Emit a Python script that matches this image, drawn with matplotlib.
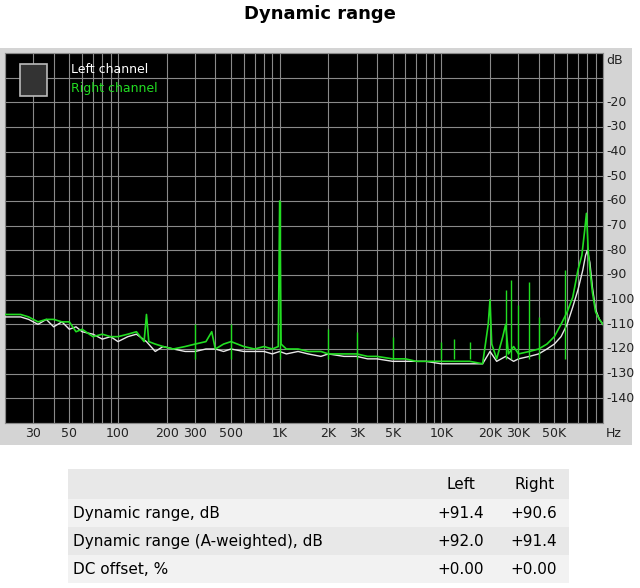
import numpy as np
import matplotlib
matplotlib.use("Agg")
import matplotlib.pyplot as plt
import matplotlib.ticker as ticker
from matplotlib.patches import Rectangle

# ── data ──────────────────────────────────────────────────────────────
FREQ_L = [20, 25, 28, 32, 36, 40, 45, 50, 55, 60, 70, 80, 90, 100, 115, 130, 150,
          170, 190, 220, 260, 300, 350, 400, 450, 500, 600, 700, 800, 900, 1000,
          1100, 1300, 1500, 1800, 2000, 2500, 3000, 3500, 4000, 5000, 6000, 7000,
          8000, 10000, 12000, 15000, 18000, 20000, 22000, 25000, 28000, 30000,
          35000, 40000, 45000, 50000, 55000, 60000, 65000, 70000, 75000, 78000,
          80000, 83000, 86000, 90000, 95000, 100000]
LEVEL_L = [-107, -107, -108, -110, -108, -111, -109, -112, -111, -113, -114, -116,
           -115, -117, -115, -114, -117, -121, -119, -120, -121, -121, -120, -120,
           -121, -120, -121, -121, -121, -122, -121, -122, -121, -122, -123, -122,
           -123, -123, -124, -124, -125, -125, -125, -125, -126, -126, -126, -126,
           -121, -125, -123, -125, -124, -123, -122, -120, -118, -115, -110, -103,
           -96, -88, -82, -80, -85, -95, -104, -108, -110]

FREQ_R = [20, 25, 28, 32, 36, 40, 45, 50, 55, 60, 70, 80, 90, 100, 115, 130, 145,
          150, 155, 170, 190, 220, 260, 300, 350, 380, 400, 450, 500, 600, 700,
          800, 900, 980, 1000, 1020, 1100, 1300, 1500, 1800, 2000, 2500, 3000,
          3500, 4000, 5000, 6000, 7000, 8000, 10000, 12000, 15000, 18000, 19500,
          20000, 20500, 22000, 24000, 25000, 26000, 28000, 30000, 35000, 40000,
          45000, 50000, 55000, 60000, 65000, 70000, 74000, 77000, 79000, 80000,
          81000, 83000, 86000, 90000, 95000, 100000]
LEVEL_R = [-106, -106, -107, -109, -108, -108, -109, -109, -113, -112, -115, -114,
           -115, -115, -114, -113, -117, -106, -117, -118, -119, -120, -119, -118,
           -117, -113, -120, -118, -117, -119, -120, -119, -120, -119, -60, -118,
           -120, -120, -121, -121, -122, -122, -122, -123, -123, -124, -124, -125,
           -125, -125, -125, -125, -126, -110, -100, -118, -124, -115, -110, -122,
           -119, -122, -121, -120, -118, -115, -110, -105, -99, -88, -82, -72,
           -65, -72, -80, -88, -97, -105, -108, -110]

# narrow spurs on the right channel (frequency, peak level)
SPUR_F = [300, 500, 1000, 2000, 3000, 5000, 10000, 12000, 15000, 25000, 27000,
          30000, 35000, 40000, 58000]
SPUR_DB = [-110, -110, -60, -112, -113, -115, -117, -116, -117, -96, -92,
           -102, -93, -107, -88]

X_TICKS = [30, 50, 100, 200, 300, 500, 1000, 2000, 3000, 5000, 10000, 20000,
           30000, 50000]
X_LABELS = ["30", "50", "100", "200", "300", "500", "1K", "2K", "3K", "5K",
            "10K", "20K", "30K", "50K"]
Y_TICKS = [-20, -30, -40, -50, -60, -70, -80, -90, -100, -110, -120, -130, -140]

ROW_NAMES = ["Dynamic range, dB", "Dynamic range (A-weighted), dB", "DC offset, %"]
LEFT_VALS = ["+91.4", "+92.0", "+0.00"]
RIGHT_VALS = ["+90.6", "+91.4", "+0.00"]

W, H = 640, 588
fig = plt.figure(figsize=(6.4, 5.88), dpi=100)
fig.patch.set_facecolor("white")

def fx(px):
    return px / W

def fy(py):
    return 1 - py / H

# grey panel behind the chart
fig.patches.append(Rectangle((0, fy(445)), fx(632), fy(48) - fy(445),
                             transform=fig.transFigure, facecolor="#d4d4d4",
                             edgecolor="none", zorder=-5))

fig.text(0.5, fy(14), "Dynamic range", ha="center", va="center",
         fontsize=13, fontweight="bold")

ax = fig.add_axes([fx(5), fy(423), fx(598), fy(53) - fy(423)])
ax.set_facecolor("black")
ax.set_xscale("log")
ax.set_xlim(20, 100000)
ax.set_ylim(-150, 0)

# grid
ax.xaxis.set_major_locator(ticker.LogLocator(base=10, subs=np.arange(1, 10)))
ax.xaxis.set_minor_locator(ticker.NullLocator())
ax.yaxis.set_major_locator(ticker.MultipleLocator(10))
ax.grid(True, which="major", color="#8a8a8a", linewidth=0.8)
ax.tick_params(length=0, labelbottom=False, labelleft=False)

for s in ax.spines.values():
    s.set_color("#8a8a8a")

ax.plot(FREQ_L, LEVEL_L, color="#e8e8e8", linewidth=1.0, zorder=3)
ax.plot(FREQ_R, LEVEL_R, color="#22dd22", linewidth=1.2, zorder=4)
ax.vlines(SPUR_F, -124, SPUR_DB, color="#22dd22", linewidth=1.0, zorder=4)

# tick labels drawn in the grey strip
for f, lab in zip(X_TICKS, X_LABELS):
    ax.text(f, -151.5, lab, ha="center", va="top", fontsize=9, color="#222222",
            clip_on=False)
ax.text(1.005, -151.5, "Hz", transform=ax.get_yaxis_transform(), ha="left",
        va="top", fontsize=9, color="#222222")
for v in Y_TICKS:
    ax.text(1.005, v, str(v), transform=ax.get_yaxis_transform(), ha="left",
            va="center", fontsize=9, color="#222222")
ax.text(1.005, -3, "dB", transform=ax.get_yaxis_transform(), ha="left",
        va="center", fontsize=9, color="#222222")

# legend
ax.text(0.11, 0.955, "Left channel", transform=ax.transAxes, color="white",
        fontsize=9, va="center")
ax.text(0.11, 0.905, "Right channel", transform=ax.transAxes, color="#22dd22",
        fontsize=9, va="center")
ax.add_patch(Rectangle((0.025, 0.885), 0.045, 0.085, transform=ax.transAxes,
                       facecolor="#333333", edgecolor="#bbbbbb", linewidth=1.2,
                       zorder=5))

# table
rows_y = [469, 499, 527, 555, 583]
colors = ["#e8e8e8", "#f2f2f2", "#e8e8e8", "#f2f2f2"]
for i in range(4):
    fig.patches.append(Rectangle((fx(68), fy(rows_y[i + 1])), fx(501),
                                 fy(rows_y[i]) - fy(rows_y[i + 1]),
                                 transform=fig.transFigure, facecolor=colors[i],
                                 edgecolor="none", zorder=-5))
fig.text(fx(475), fy(489), "Left", ha="right", va="baseline", fontsize=11)
fig.text(fx(555), fy(489), "Right", ha="right", va="baseline", fontsize=11)
for i, (name, lv, rv) in enumerate(zip(ROW_NAMES, LEFT_VALS, RIGHT_VALS)):
    by = fy(rows_y[i + 1] + 19)
    fig.text(fx(73), by, name, ha="left", va="baseline", fontsize=11)
    fig.text(fx(484), by, lv, ha="right", va="baseline", fontsize=11)
    fig.text(fx(557), by, rv, ha="right", va="baseline", fontsize=11)

fig.savefig("out.png", dpi=100)
